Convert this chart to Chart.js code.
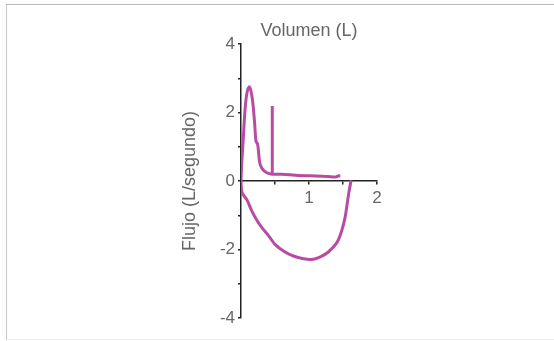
<!DOCTYPE html>
<html>
<head>
<meta charset="utf-8">
<script src="https://cdn.jsdelivr.net/npm/chart.js@4"></script>
<style>
  html, body { margin: 0; padding: 0; background: #fff; overflow: hidden; }
  #frame {
    position: absolute; left: 6px; top: 4px; width: 560px; height: 334px;
    border-top: 1px solid #b8b8b8; border-left: 1px solid #c8c8c8; border-bottom: 1px solid #ececec;
  }
  #wrap { position: absolute; left: 0; top: 0; width: 554px; height: 341px; }
</style>
</head>
<body>
<div id="frame"></div>
<div id="wrap"><canvas id="chart" width="554" height="341"></canvas></div>
<script>
// Flow-volume loop
const volExp = [0, 0.01, 0.03, 0.06, 0.09, 0.12, 0.14, 0.17, 0.2, 0.22, 0.245, 0.275, 0.31, 0.38, 0.46, 0.6, 0.8, 1.02, 1.2, 1.35, 1.40, 1.43, 1.46];
const flowExp = [0, 0.5, 1.12, 2.1, 2.6, 2.75, 2.68, 2.35, 1.7, 1.17, 1.07, 0.54, 0.36, 0.24, 0.2, 0.2, 0.17, 0.15, 0.14, 0.12, 0.12, 0.15, 0.14];

const volSpike = [0.46, 0.46];
const flowSpike = [0.2, 2.19];

const volInsp = [0, 0.01, 0.04, 0.09, 0.16, 0.24, 0.31, 0.41, 0.5, 0.63, 0.77, 0.92, 1.04, 1.16, 1.28, 1.41, 1.48, 1.53, 1.56, 1.59, 1.62];
const flowInsp = [0, -0.3, -0.42, -0.56, -0.88, -1.17, -1.37, -1.61, -1.85, -2.05, -2.19, -2.27, -2.29, -2.22, -2.08, -1.8, -1.46, -1.07, -0.68, -0.29, 0.02];

const xLabels = [1, 2];
const yLabels = [-4, -2, 0, 2, 4];

const lineColor = '#b84ca5';
const textColor = '#666666';
const fontFamily = "'Liberation Sans Narrow', 'Liberation Sans', sans-serif";

function toPoints(xs, ys) {
    return xs.map((x, i) => ({ x: x, y: ys[i] }));
}

function series(xs, ys, tension) {
    return {
        data: toPoints(xs, ys),
        showLine: true,
        borderColor: lineColor,
        borderWidth: 3,
        pointRadius: 0,
        tension: tension,
        fill: false
    };
}

const ctx = document.getElementById('chart').getContext('2d');
const chart = new Chart(ctx, {
    type: 'scatter',
    data: {
        datasets: [
            series(volExp, flowExp, 0.3),
            series(volSpike, flowSpike, 0),
            series(volInsp, flowInsp, 0.3)
        ]
    },
    options: {
        responsive: false,
        animation: false,
        layout: { padding: { left: 179, right: 177, top: 0, bottom: 23 } },
        plugins: {
            legend: { display: false },
            tooltip: { enabled: false },
            title: {
                display: true,
                text: 'Volumen (L)',
                fullSize: false,
                color: textColor,
                font: { family: fontFamily, size: 18, weight: 'normal' },
                padding: { top: 20, bottom: 2.4 }
            }
        },
        scales: {
            x: {
                type: 'linear',
                position: { y: 0 },
                min: 0,
                max: 2,
                border: { display: true, color: '#222', width: 1.5 },
                grid: { drawOnChartArea: false, drawTicks: true, tickLength: 3, color: '#222', lineWidth: 1.5 },
                ticks: {
                    stepSize: 0.5,
                    autoSkip: false,
                    maxRotation: 0,
                    padding: 4,
                    color: textColor,
                    font: { family: fontFamily, size: 17 },
                    callback: (v) => xLabels.includes(v) ? String(v) : ''
                }
            },
            y: {
                type: 'linear',
                position: 'left',
                min: -4,
                max: 4,
                border: { display: true, color: '#222', width: 1.5 },
                grid: { drawOnChartArea: false, drawTicks: true, tickLength: 3, color: '#222', lineWidth: 1.5 },
                ticks: {
                    stepSize: 1,
                    autoSkip: false,
                    padding: 3,
                    color: textColor,
                    font: { family: fontFamily, size: 17 },
                    callback: (v) => yLabels.includes(v) ? String(v) : ''
                },
                title: {
                    display: true,
                    text: 'Flujo (L/segundo)',
                    color: textColor,
                    font: { family: fontFamily, size: 18 },
                    padding: { top: 0, bottom: 0 }
                },
                afterFit: (scale) => { scale.width = 62; }
            }
        }
    }
});
</script>
</body>
</html>
